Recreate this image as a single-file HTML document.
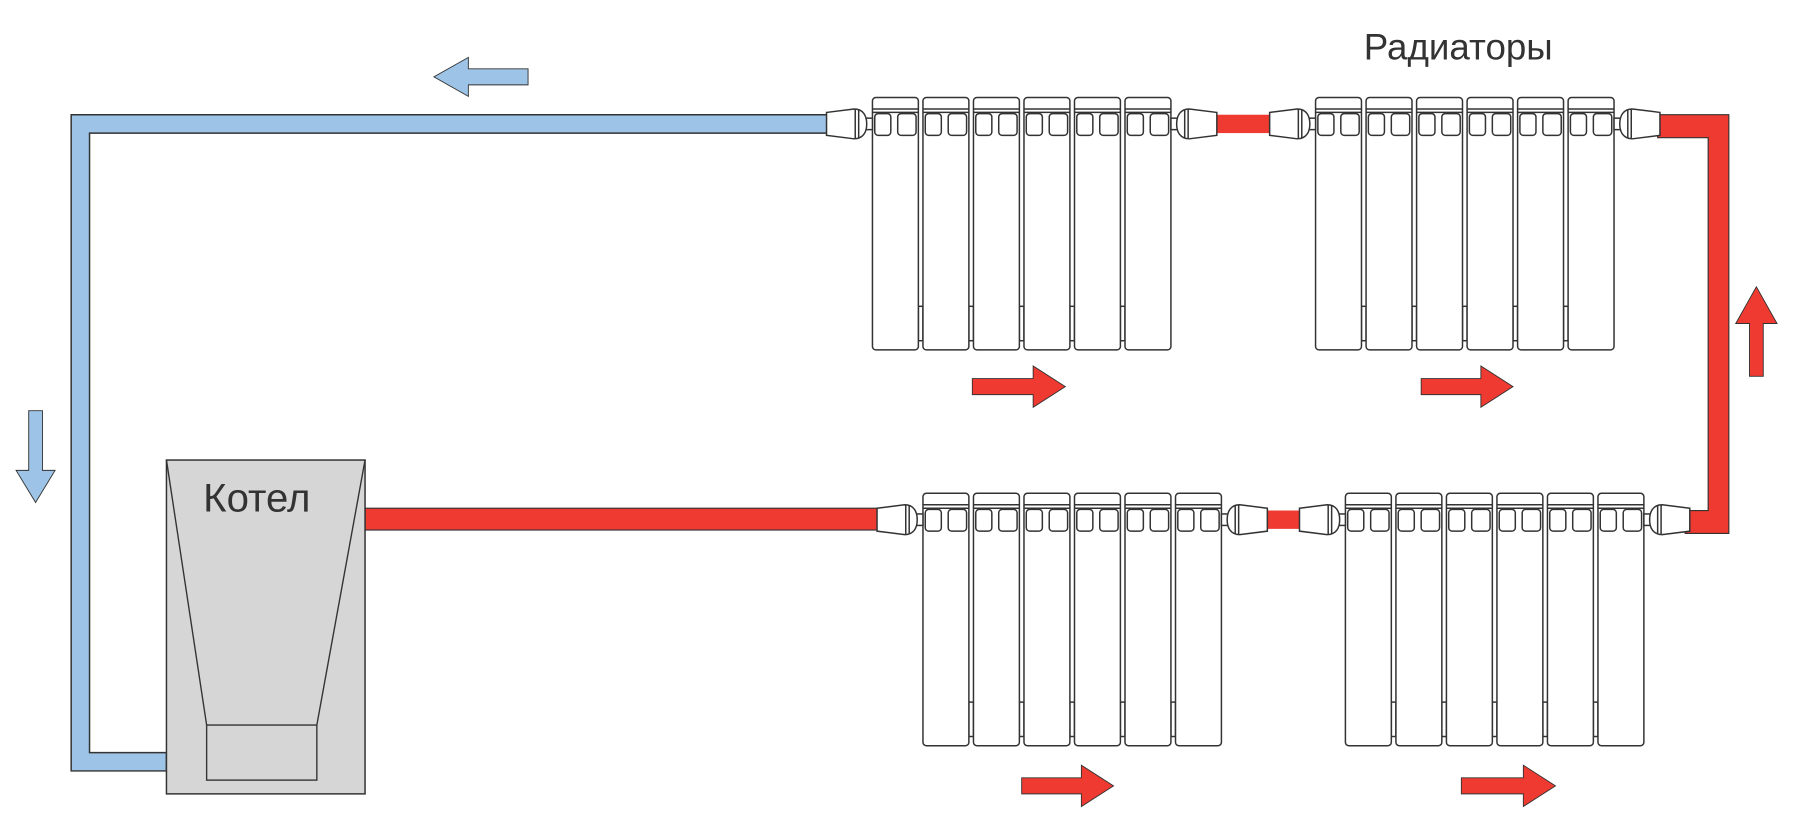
<!DOCTYPE html>
<html><head><meta charset="utf-8"><style>html,body{margin:0;padding:0;background:#fff}svg{display:block}</style></head>
<body>
<svg width="1800" height="826" viewBox="0 0 1568 720" preserveAspectRatio="none" xmlns="http://www.w3.org/2000/svg">
<defs>
<g id="sec" fill="#fff" stroke="#333" stroke-width="1.3">
<rect x="0" y="0" width="40" height="220" rx="3"/>
<line x1="0" y1="10" x2="40" y2="10"/>
<line x1="0" y1="13" x2="40" y2="13"/>
<rect x="2" y="14" width="14" height="19" rx="3"/>
<rect x="22" y="14" width="16" height="19" rx="3"/>
</g>
<g id="gap" fill="#fff" stroke="#333" stroke-width="1.3">
<rect x="40" y="182" width="4" height="30"/>
</g>
<g id="rad">
<use href="#gap" x="0"/><use href="#gap" x="44"/><use href="#gap" x="88"/><use href="#gap" x="132"/><use href="#gap" x="176"/>
<use href="#sec" x="0"/><use href="#sec" x="44"/><use href="#sec" x="88"/><use href="#sec" x="132"/><use href="#sec" x="176"/><use href="#sec" x="220"/>
</g>
<g id="valve" fill="#fff" stroke="#333" stroke-width="1.3">
<rect x="31" y="-5" width="9" height="10"/>
<path d="M0,-10 L24,-13 C32,-13 35,-7 35,0 C35,7 32,13 24,13 L0,10 Z"/>
<line x1="25" y1="-13" x2="25" y2="13"/>
<line x1="28" y1="-12.5" x2="28" y2="12.5"/>
</g>
</defs>

<!-- blue return pipe -->
<path d="M145,656 L78,656 L78,116 L722,116 L722,100 L62,100 L62,672 L145,672 Z" fill="#9dc3e6" stroke="#333" stroke-width="1.3"/>

<!-- red pipes -->
<rect x="318" y="443" width="454" height="19" fill="#ee3a31" stroke="#333" stroke-width="1"/>
<rect x="1056" y="100" width="54" height="16" fill="#ee3a31"/>
<rect x="1100" y="445" width="36" height="16" fill="#ee3a31"/>
<path d="M1444,100 L1506,100 L1506,465 L1468,465 L1468,445 L1488,445 L1488,120 L1444,120 Z" fill="#ee3a31" stroke="#333" stroke-width="1"/>

<!-- top radiators -->
<use href="#rad" x="760" y="85"/>
<use href="#rad" x="1146" y="85"/>
<use href="#valve" transform="translate(720,108)"/>
<use href="#valve" transform="translate(1060,108) scale(-1,1)"/>
<use href="#valve" transform="translate(1106,108)"/>
<use href="#valve" transform="translate(1446,108) scale(-1,1)"/>

<!-- bottom radiators -->
<use href="#rad" x="804" y="430"/>
<use href="#rad" x="1172" y="430"/>
<use href="#valve" transform="translate(764,453)"/>
<use href="#valve" transform="translate(1104,453) scale(-1,1)"/>
<use href="#valve" transform="translate(1132,453)"/>
<use href="#valve" transform="translate(1472,453) scale(-1,1)"/>

<!-- boiler -->
<rect x="145" y="401" width="173" height="291" fill="#d6d6d6" stroke="#333" stroke-width="1.3"/>
<line x1="145" y1="401" x2="180" y2="632" stroke="#333" stroke-width="1.2"/>
<line x1="318" y1="401" x2="276" y2="632" stroke="#333" stroke-width="1.2"/>
<rect x="180" y="632" width="96" height="48" fill="none" stroke="#333" stroke-width="1.2"/>
<text x="177" y="446" font-family="Liberation Sans, sans-serif" font-size="35" fill="#333">Котел</text>

<text x="1188" y="52" font-family="Liberation Sans, sans-serif" font-size="32" fill="#333">Радиаторы</text>

<!-- arrows -->
<g fill="#ee3a31" stroke="#333" stroke-width="0.8">
<path d="M847,330 L900,330 L900,319 L928,337 L900,355 L900,344 L847,344 Z"/>
<path d="M1238,330 L1290,330 L1290,319 L1318,337 L1290,355 L1290,344 L1238,344 Z"/>
<path d="M890,678 L942,678 L942,667 L970,685 L942,703 L942,692 L890,692 Z"/>
<path d="M1273,678 L1327,678 L1327,667 L1355,685 L1327,703 L1327,692 L1273,692 Z"/>
<path d="M1524,328 L1524,282 L1512,282 L1530,250 L1548,282 L1536,282 L1536,328 Z"/>
</g>
<g fill="#9dc3e6" stroke="#333" stroke-width="0.8">
<path d="M460,60 L408,60 L408,50 L378,67 L408,84 L408,74 L460,74 Z"/>
<path d="M25,358 L37,358 L37,410 L48,410 L31,438 L14,410 L25,410 Z"/>
</g>
</svg>
</body></html>
